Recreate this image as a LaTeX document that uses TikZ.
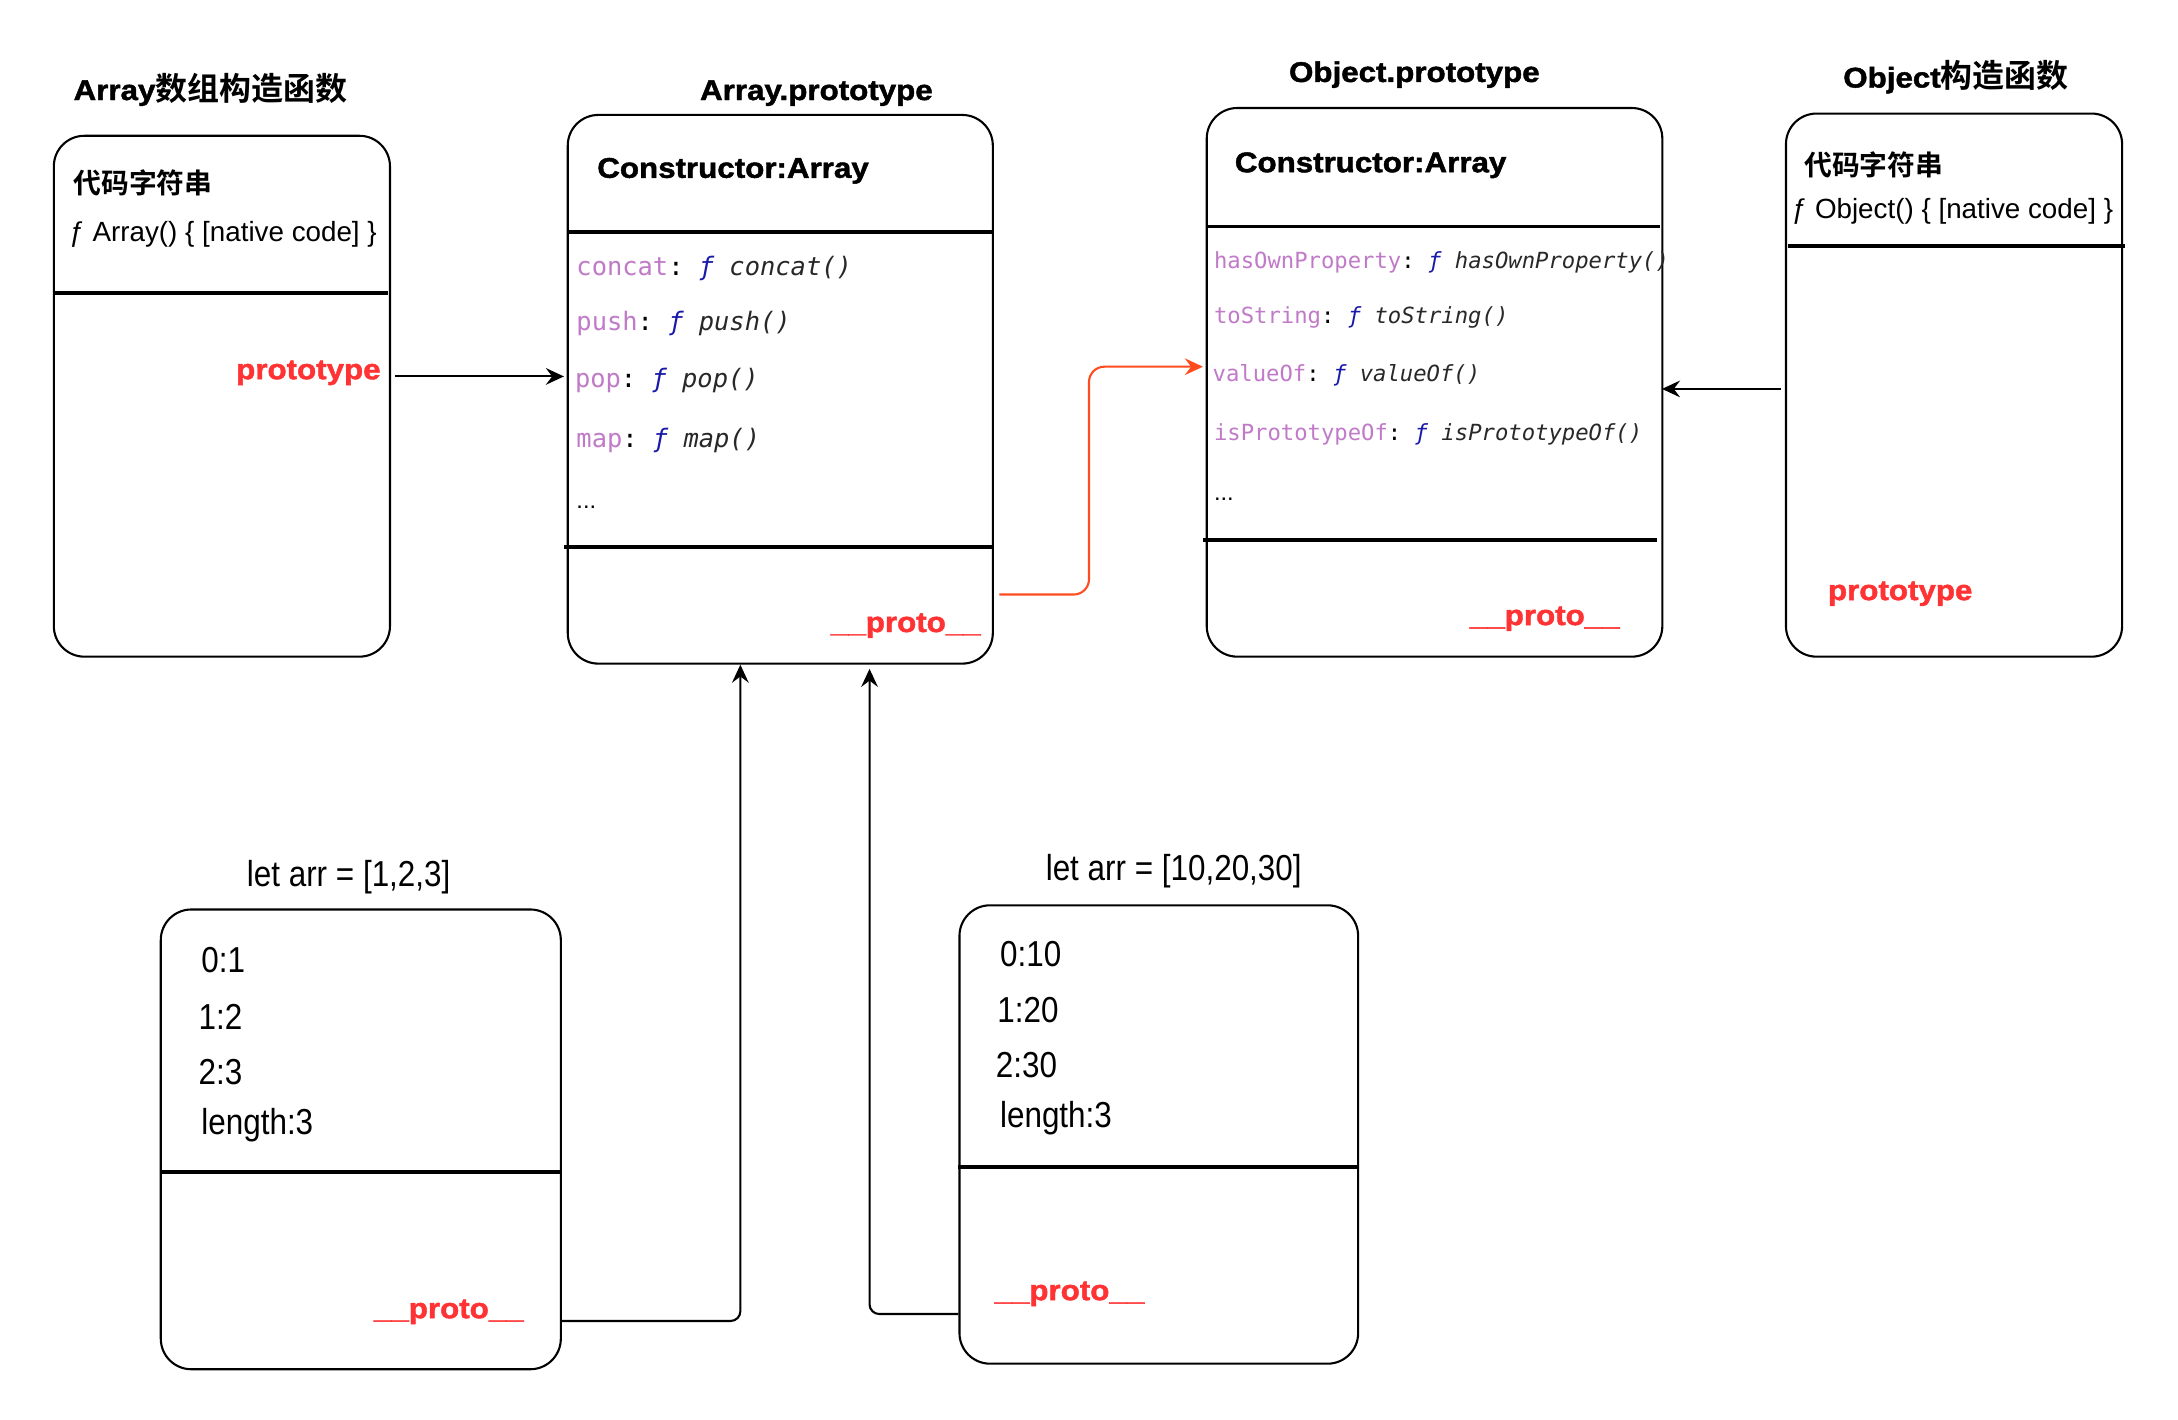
\documentclass[tikz,border=0pt]{standalone}
\usepackage{fontspec}
\usetikzlibrary{arrows.meta}
\setmainfont{Liberation Sans}
\setmonofont{DejaVu Sans Mono}
\newfontfamily\widefont{Liberation Sans}[FakeStretch=1.1, BoldFeatures={FakeBold=1.6}]
\newfontfamily\narrowfont{Liberation Sans}[FakeStretch=0.87]
\newfontfamily\cjkfont{Noto Sans CJK SC}[BoldFont={Noto Sans CJK SC Bold}]

\definecolor{keyc}{RGB}{192,122,200}
\definecolor{fblue}{RGB}{26,26,170}
\definecolor{fname}{RGB}{40,40,40}
\definecolor{protored}{RGB}{255,51,51}
\definecolor{linkorange}{RGB}{255,76,30}

\newcommand\headfont{\widefont\bfseries\fontsize{20.5}{24}\selectfont}
\newcommand\hanfont[1]{\cjkfont\bfseries\fontsize{#1}{#1}\selectfont}
\newcommand\plainfont{\fontsize{20}{22}\selectfont}
\newcommand\slotfont{\narrowfont\fontsize{26}{28}\selectfont}
% one property row of a prototype object: key, the function marker, the function name
\newcommand\kv[2]{\textcolor{keyc}{#1}: \textcolor{fblue}{\itshape ƒ} \textcolor{fname}{\itshape #2}}

\begin{document}
\begin{tikzpicture}[x=1pt,y=-1pt,
  box/.style={draw, line width=1.5pt, rounded corners=22pt, anchor=north west, inner sep=0pt},
  divider/.style={line width=2.7pt},
  txt/.style={inner sep=0pt, outer sep=0pt, anchor=base west},
  redlabel/.style={txt, text=protored, font=\headfont},
  codeB/.style={txt, font=\ttfamily\fontsize{18.3}{20}\selectfont},
  codeC/.style={txt, font=\ttfamily\fontsize{16}{18}\selectfont},
  slot/.style={txt, font=\slotfont},
  link/.style={draw, line width=1.5pt, -{Stealth[length=13pt,width=12pt,inset=4.5pt]}, rounded corners=7pt},
  olink/.style={link, draw=linkorange, rounded corners=11pt}]

\fill[white] (0,0) rectangle (1568,1022);
\useasboundingbox (0,0) rectangle (1568,1022);

% ---------- Array constructor ----------
\node[box, minimum width=242pt, minimum height=375pt] (A) at (38,97) {};
\draw[divider] (38,211) -- (279,211);
\node[txt] (Atitle) at (53,72) {\headfont Array\hanfont{23}数组构造函数};
\node[txt] (Acode) at (53,139) {\hanfont{20}代码字符串};
\node[txt, font=\plainfont] (Asrc) at (50,174) {ƒ Array() \{ [native code] \}};
\node[redlabel, anchor=base east] (Aproto) at (274,273) {prototype};

% ---------- Array.prototype ----------
\node[box, minimum width=306pt, minimum height=395pt] (B) at (408,82) {};
\draw[divider] (408,167) -- (714,167);
\draw[divider] (406,394) -- (714,394);
\node[txt, font=\headfont] (Btitle) at (504,72) {Array.prototype};
\node[txt, font=\headfont] (Bctor) at (430,128) {Constructor:Array};
\node[codeB] (Bl1) at (415,198) {\kv{concat}{concat()}};
\node[codeB] (Bl2) at (415,238) {\kv{push}{push()}};
\node[codeB] (Bl3) at (414,279) {\kv{pop}{pop()}};
\node[codeB] (Bl4) at (415,322) {\kv{map}{map()}};
\node[txt, font=\fontsize{17}{18}\selectfont] (Bl5) at (415,366) {...};
\node[redlabel, anchor=base east] (Bproto) at (706,455) {\_\_proto\_\_};

% ---------- Object.prototype ----------
\node[box, minimum width=328pt, minimum height=395pt] (C) at (868,77) {};
\draw[divider] (868,163) -- (1195,163);
\draw[divider] (866,389) -- (1193,389);
\node[txt, font=\headfont] (Ctitle) at (928,59) {Object.prototype};
\node[txt, font=\headfont] (Cctor) at (889,124) {Constructor:Array};
\node[codeC] (Cl1) at (874,193) {\kv{hasOwnProperty}{hasOwnProperty()}};
\node[codeC] (Cl2) at (874,233) {\kv{toString}{toString()}};
\node[codeC] (Cl3) at (873,275) {\kv{valueOf}{valueOf()}};
\node[codeC] (Cl4) at (874,317) {\kv{isPrototypeOf}{isPrototypeOf()}};
\node[txt, font=\fontsize{17}{18}\selectfont] (Cl5) at (874,360) {...};
\node[redlabel, anchor=base east] (Cproto) at (1166,450) {\_\_proto\_\_};

% ---------- Object constructor ----------
\node[box, minimum width=242pt, minimum height=391pt] (D) at (1285,81) {};
\draw[divider] (1287,177) -- (1530,177);
\node[txt] (Dtitle) at (1327,63) {\headfont Object\hanfont{23}构造函数};
\node[txt] (Dcode) at (1299,126) {\hanfont{20}代码字符串};
\node[txt, font=\plainfont] (Dsrc) at (1290,157) {ƒ Object() \{ [native code] \}};
\node[redlabel] (Dproto) at (1316,432) {prototype};

% ---------- let arr = [1,2,3] ----------
\node[box, minimum width=288pt, minimum height=331pt] (E) at (115,654) {};
\draw[divider] (115,844) -- (403,844);
\node[slot, anchor=base] (Etitle) at (251,638) {let arr = [1,2,3]};
\node[slot] (E0) at (145,700) {0:1};
\node[slot] (E1) at (143,741) {1:2};
\node[slot] (E2) at (143,781) {2:3};
\node[slot] (E3) at (145,817) {length:3};
\node[redlabel, anchor=base east] (Eproto) at (377,949) {\_\_proto\_\_};

% ---------- let arr = [10,20,30] ----------
\node[box, minimum width=287pt, minimum height=330pt] (F) at (690,651) {};
\draw[divider] (690,840) -- (977,840);
\node[slot, anchor=base] (Ftitle) at (845,634) {let arr = [10,20,30]};
\node[slot] (F0) at (720,696) {0:10};
\node[slot] (F1) at (718,736) {1:20};
\node[slot] (F2) at (717,776) {2:30};
\node[slot] (F3) at (720,812) {length:3};
\node[redlabel] (Fproto) at (716,936) {\_\_proto\_\_};

% ---------- connectors ----------
\coordinate (yA) at (0,271);
\coordinate (yD) at (0,280);
\coordinate (yB) at (0,428);
\coordinate (oTurn) at (784,264);
\coordinate (eTurn) at (533,951);
\coordinate (fTurn) at (626,946);

\draw[link, shorten <=3pt, shorten >=2pt] (A.east |- yA) -- (B.west |- yA);
\draw[link, shorten <=3pt, shorten >=-1pt] (D.west |- yD) -- (C.east |- yD);
\draw[olink, shorten <=4pt, shorten >=2pt] (B.east |- yB) -| (oTurn) -- (C.west |- oTurn);
\draw[link] (E.east |- eTurn) -| (eTurn |- B.south);
\draw[link, shorten >=3pt] (F.west |- fTurn) -| (fTurn |- B.south);

\end{tikzpicture}
\end{document}
